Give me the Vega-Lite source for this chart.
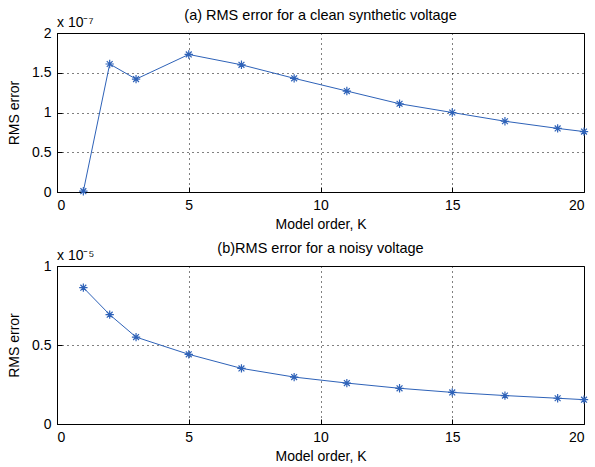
{
  "$schema": "https://vega.github.io/schema/vega-lite/v6.json",
  "padding": {"left": 7, "top": 7, "right": 5, "bottom": 5},
  "spacing": 8,
  "config": {
    "font": "Liberation Sans",
    "view": {"stroke": "black", "strokeWidth": 1},
    "axis": {
      "labelFont": "Liberation Sans", "labelFontSize": 14, "labelColor": "black", "labelOverlap": false,
      "titleFont": "Liberation Sans", "titleFontSize": 14, "titleFontWeight": "normal", "titleColor": "black",
      "domainColor": "black", "tickColor": "black", "tickSize": -5,
      "gridColor": "black", "gridDash": [1, 4], "gridOpacity": 1, "gridWidth": 1
    },
    "title": {"font": "Liberation Sans", "fontSize": 14.5, "fontWeight": "normal", "color": "black", "offset": -7}
  },
  "datasets": {
    "clean": [
      {"K": 1, "rms": 0.01e-7}, {"K": 2, "rms": 1.61e-7}, {"K": 3, "rms": 1.42e-7},
      {"K": 5, "rms": 1.73e-7}, {"K": 7, "rms": 1.60e-7}, {"K": 9, "rms": 1.43e-7},
      {"K": 11, "rms": 1.27e-7}, {"K": 13, "rms": 1.11e-7}, {"K": 15, "rms": 1.00e-7},
      {"K": 17, "rms": 0.89e-7}, {"K": 19, "rms": 0.80e-7}, {"K": 20, "rms": 0.76e-7}
    ],
    "noisy": [
      {"K": 1, "rms": 0.863e-5}, {"K": 2, "rms": 0.692e-5}, {"K": 3, "rms": 0.55e-5},
      {"K": 5, "rms": 0.441e-5}, {"K": 7, "rms": 0.352e-5}, {"K": 9, "rms": 0.297e-5},
      {"K": 11, "rms": 0.259e-5}, {"K": 13, "rms": 0.226e-5}, {"K": 15, "rms": 0.20e-5},
      {"K": 17, "rms": 0.18e-5}, {"K": 19, "rms": 0.163e-5}, {"K": 20, "rms": 0.154e-5}
    ]
  },
  "vconcat": [
    {
      "width": 527, "height": 159,
      "title": "(a) RMS error for a clean synthetic voltage",
      "data": {"name": "clean"},
      "encoding": {
        "x": {"field": "K", "type": "quantitative", "scale": {"domain": [0, 20]},
              "axis": {"title": "Model order, K", "values": [0, 5, 10, 15, 20], "grid": true, "labelPadding": 11, "titlePadding": 5}},
        "y": {"field": "rms", "type": "quantitative", "scale": {"domain": [0, 2e-7]},
              "axis": {"title": "RMS error", "values": [0, 0.5e-7, 1e-7, 1.5e-7, 2e-7], "grid": true,
                       "labelExpr": "format(datum.value*1e7, '~g')", "labelPadding": 11, "titlePadding": 10}}
      },
      "layer": [
        {"mark": {"type": "line", "color": "#2e62b8", "strokeWidth": 1}},
        {"mark": {"type": "point", "shape": "M-1,0L1,0M0,-1L0,1M-0.7,-0.7L0.7,0.7M-0.7,0.7L0.7,-0.7", "filled": false, "color": "#2e62b8", "size": 70, "strokeWidth": 1.2, "opacity": 1}},
        {
          "data": {"values": [{"K": 0, "rms": 2e-7, "label": "x 10⁻⁷"}]},
          "mark": {"type": "text", "align": "left", "baseline": "bottom", "dy": -3, "fontSize": 14, "fontWeight": "normal", "font": "Liberation Sans", "color": "black"},
          "encoding": {"text": {"field": "label"}}
        }
      ]
    },
    {
      "width": 527, "height": 158,
      "title": "(b)RMS error for a noisy voltage",
      "data": {"name": "noisy"},
      "encoding": {
        "x": {"field": "K", "type": "quantitative", "scale": {"domain": [0, 20]},
              "axis": {"title": "Model order, K", "values": [0, 5, 10, 15, 20], "grid": true, "labelPadding": 11, "titlePadding": 5}},
        "y": {"field": "rms", "type": "quantitative", "scale": {"domain": [0, 1e-5]},
              "axis": {"title": "RMS error", "values": [0, 0.5e-5, 1e-5], "grid": true,
                       "labelExpr": "format(datum.value*1e5, '~g')", "labelPadding": 11, "titlePadding": 10}}
      },
      "layer": [
        {"mark": {"type": "line", "color": "#2e62b8", "strokeWidth": 1}},
        {"mark": {"type": "point", "shape": "M-1,0L1,0M0,-1L0,1M-0.7,-0.7L0.7,0.7M-0.7,0.7L0.7,-0.7", "filled": false, "color": "#2e62b8", "size": 70, "strokeWidth": 1.2, "opacity": 1}},
        {
          "data": {"values": [{"K": 0, "rms": 1e-5, "label": "x 10⁻⁵"}]},
          "mark": {"type": "text", "align": "left", "baseline": "bottom", "dy": -3, "fontSize": 14, "fontWeight": "normal", "font": "Liberation Sans", "color": "black"},
          "encoding": {"text": {"field": "label"}}
        }
      ]
    }
  ]
}
